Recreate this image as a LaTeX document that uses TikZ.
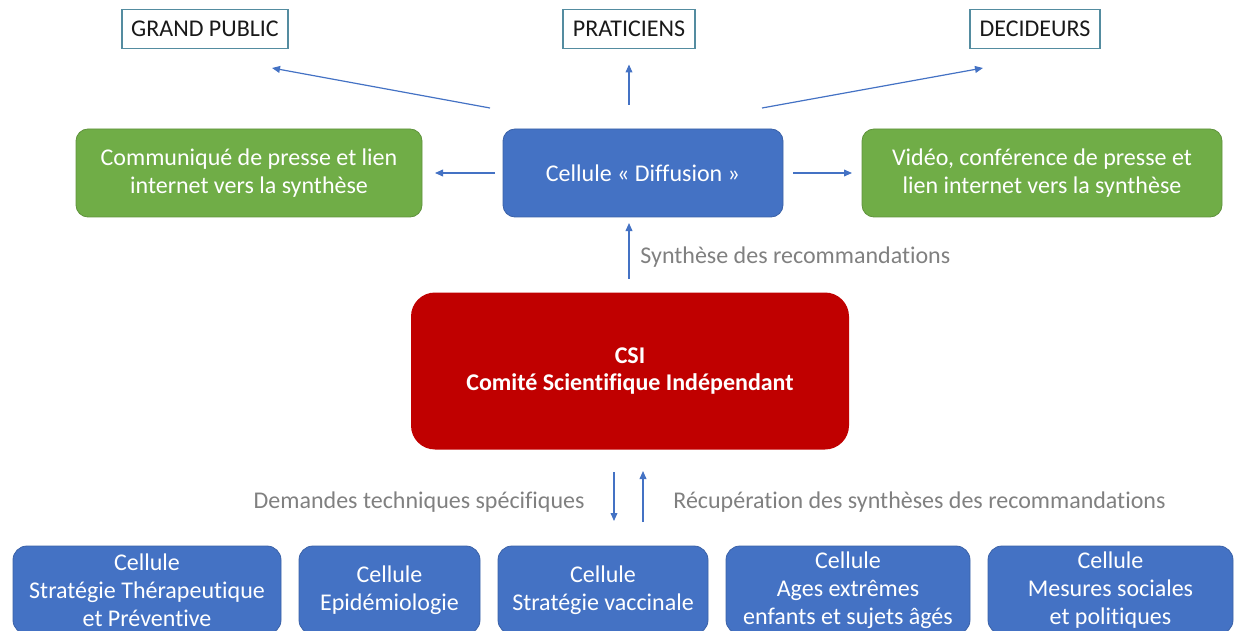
\documentclass[tikz,border=0pt]{standalone}
\usepackage{fontspec}
\setmainfont{Carlito}[Ligatures=NoCommon]
\usetikzlibrary{arrows.meta, positioning}

\definecolor{cellblue}{RGB}{68,114,196}
\definecolor{cellgreen}{RGB}{112,173,71}
\definecolor{csired}{RGB}{192,0,0}
\definecolor{labelgray}{RGB}{128,128,128}
\definecolor{targetline}{RGB}{84,140,160}

\begin{document}
\begin{tikzpicture}[
    x=0.5pt, y=-0.5pt,
    >={Triangle[length=4pt, width=3.4pt]},
    boxtext/.style={font=\fontsize{12}{14.2}\selectfont, align=center,
                    inner sep=0pt, outer sep=0pt},
    target/.style={boxtext, draw=targetline, line width=0.6pt,
                   minimum height=19.5pt, text=black!90},
    cell/.style={boxtext, fill=cellblue, draw=cellblue!85!black,
                 line width=0.4pt, rounded corners=6pt, text=white,
                 minimum height=44pt},
    media/.style={boxtext, fill=cellgreen, draw=cellgreen!85!black,
                  line width=0.4pt, rounded corners=6pt, text=white,
                  minimum height=44pt},
    note/.style={font=\fontsize{12}{14.2}\selectfont, text=labelgray,
                 inner sep=0pt},
    flow/.style={->, draw=cellblue, line width=0.6pt}
  ]
  \clip (0,0) rectangle (1238,631);

  % publics
  \node[target, minimum width=83pt] (public) at (205,29) {GRAND PUBLIC};
  \node[target, minimum width=66pt] (praticiens) at (629,29) {PRATICIENS};
  \node[target, minimum width=65pt] (decideurs) at (1035,29) {DECIDEURS};

  % diffusion row
  \node[cell, minimum width=140pt] (diffusion) at (643,173)
    {Cellule « Diffusion »};
  \node[media, minimum width=173pt, left=40.5pt of diffusion] (communique)
    {Communiqué de presse et lien\\internet vers la synthèse};
  \node[media, minimum width=180pt, right=39.5pt of diffusion] (video)
    {Vidéo, conférence de presse et\\lien internet vers la synthèse};

  % comite
  \node[boxtext, fill=csired, rounded corners=12pt, text=white,
        font=\fontsize{12}{13.6}\selectfont\bfseries,
        minimum width=219pt, minimum height=78.5pt] (csi) at (630,371)
    {CSI\\Comité Scientifique Indépendant};

  % cellules techniques
  \node[cell, rounded corners=7pt, minimum width=134pt,
        font=\fontsize{12}{14}\selectfont] (therapeutique)
    at (147,590) {Cellule\\Stratégie Thérapeutique\\et Préventive};
  \node[cell, rounded corners=7pt, minimum width=90.5pt,
        right=9pt of therapeutique] (epidemio)
    {Cellule\\Epidémiologie};
  \node[cell, rounded corners=7pt, minimum width=105pt,
        right=9pt of epidemio] (vaccin)
    {Cellule\\Stratégie vaccinale};
  \node[cell, rounded corners=7pt, minimum width=122pt,
        font=\fontsize{12}{14}\selectfont, right=9pt of vaccin] (ages)
    {Cellule\\Ages extrêmes\\enfants et sujets âgés};
  \node[cell, rounded corners=7pt, minimum width=122.5pt,
        font=\fontsize{12}{14}\selectfont, right=9pt of ages] (mesures)
    {Cellule\\Mesures sociales\\et politiques};

  % free ends of the diffusion arrows
  \coordinate (publicStart) at (490,108);
  \coordinate (publicEnd) at (272,68);
  \coordinate (decideurStart) at (762,108);
  \coordinate (decideurEnd) at (983,68);
  \coordinate (demandeTop) at (614,472);
  \coordinate (demandeBot) at (614,521);
  \coordinate (retourBot) at (643,522);
  \coordinate (retourTop) at (643,471);

  \draw[flow] (publicStart) -- (publicEnd);
  \draw[flow] (decideurStart) -- (decideurEnd);
  \draw[flow, shorten <=12pt, shorten >=8pt]
    (praticiens.south |- diffusion.north) -- (praticiens.south);
  \draw[flow, shorten <=4pt, shorten >=6.5pt] (diffusion.west) -- (communique.east);
  \draw[flow, shorten <=5pt, shorten >=5pt] (diffusion.east) -- (video.west);
  \draw[flow, shorten <=7pt, shorten >=3pt]
    (csi.north -| praticiens.south) -- (diffusion.south -| praticiens.south);
  \draw[flow] (demandeTop) -- (demandeBot);
  \draw[flow] (retourBot) -- (retourTop);

  % labels
  \node[note, anchor=west] (synthese) at (640,257) {Synthèse des recommandations};
  \node[note, anchor=east] (demandes) at (585,502) {Demandes techniques spécifiques};
  \node[note, anchor=west] (recup) at (673,502)
    {Récupération des synthèses des recommandations};
\end{tikzpicture}
\end{document}
